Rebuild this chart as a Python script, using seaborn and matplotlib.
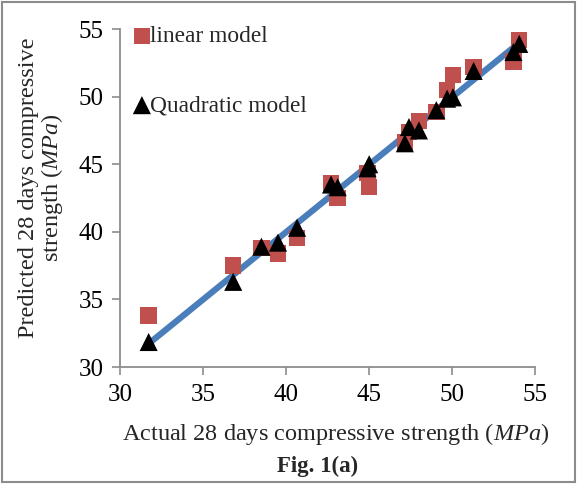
import matplotlib
matplotlib.use("Agg")
import matplotlib.pyplot as plt
import seaborn as sns
import numpy as np
import pandas as pd
from matplotlib.patches import Rectangle

# Data
actual = [31.7, 36.8, 38.5, 39.5, 40.65, 42.7, 43.1, 44.9, 45.0, 47.15, 47.4,
          48.0, 49.05, 49.7, 50.05, 51.3, 53.7, 54.05]
linear_pred = [33.8, 37.5, 38.8, 38.4, 39.55, 43.6, 42.5, 44.35, 43.3, 46.6, 47.4,
               48.2, 48.85, 50.5, 51.6, 52.2, 52.6, 54.2]
quad_pred = [31.85, 36.3, 38.9, 39.2, 40.3, 43.5, 43.3, 44.7, 45.0, 46.55, 47.75,
             47.5, 49.0, 49.85, 49.95, 51.9, 53.3, 53.9]

x_ticks = [30, 35, 40, 45, 50, 55]
y_ticks = [30, 35, 40, 45, 50, 55]

df = pd.DataFrame({"actual": actual, "linear": linear_pred, "quad": quad_pred})

sns.set_theme(style="white")
plt.rcParams["font.family"] = ["Liberation Serif", "DejaVu Serif"]
plt.rcParams["mathtext.fontset"] = "custom"
plt.rcParams["mathtext.rm"] = "Liberation Serif"
plt.rcParams["mathtext.it"] = "Liberation Serif:italic"

fig = plt.figure(figsize=(5.77, 4.84), dpi=100)
ax = fig.add_axes([0.2088, 0.2417, 0.7184, 0.6983])

# fitted trend line (blue)
sns.regplot(data=df, x="actual", y="quad", scatter=False, ci=None, truncate=True,
            color="#4A7EBB", line_kws={"linewidth": 4.5, "solid_capstyle": "butt"}, ax=ax)

sns.scatterplot(data=df, x="actual", y="linear", marker="s", s=140, color="#C0504D",
                edgecolor="none", label="linear model", ax=ax, zorder=3)
sns.scatterplot(data=df, x="actual", y="quad", marker="^", s=170, color="black",
                edgecolor="none", label="Quadratic model", ax=ax, zorder=4)

ax.set_xlim(30, 55)
ax.set_ylim(30, 55)
ax.set_xticks(x_ticks)
ax.set_yticks(y_ticks)
ax.set_xticklabels([str(t) for t in x_ticks], fontsize=18)
ax.set_yticklabels([str(t) for t in y_ticks], fontsize=18)

for s in ["top", "right"]:
    ax.spines[s].set_visible(False)
for s in ["left", "bottom"]:
    ax.spines[s].set_color("#8C8C8C")
    ax.spines[s].set_linewidth(1.3)
ax.tick_params(axis="both", which="major", direction="out", length=6, width=1.2,
               color="#8C8C8C", pad=6, labelcolor="black", bottom=True, left=True)

ax.set_xlabel(r"Actual 28 days compressive strength ($\it{MPa}$)", fontsize=17.5)
ax.xaxis.set_label_coords(0.52, -0.16)
ax.set_ylabel("Predicted 28 days compressive\n" + r"strength ($\it{MPa}$)", fontsize=17.5,
              linespacing=0.95)
ax.yaxis.set_label_coords(-0.135, 0.53)

leg = ax.legend(loc="upper left", bbox_to_anchor=(-0.03, 1.058), frameon=False, fontsize=16.8,
                handletextpad=-0.4, labelspacing=2.05, borderaxespad=0.3, handlelength=1.5)

fig.text(0.551, 0.037, "Fig. 1(a)", ha="center", va="center", fontsize=16.5, fontweight="bold")

fig.patches.append(Rectangle((0.003, 0.004), 0.994, 0.992, transform=fig.transFigure,
                             fill=False, edgecolor="#8C8C8C", linewidth=1.5))

fig.savefig("out.png", dpi=100)
